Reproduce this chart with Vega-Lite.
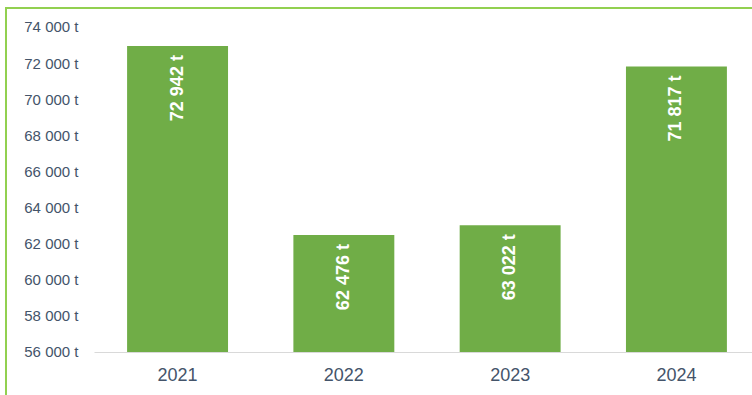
{
  "$schema": "https://vega.github.io/schema/vega-lite/v6.json",
  "autosize": "none",
  "padding": {"left": 6, "top": 8, "right": -8, "bottom": -8},
  "width": 754,
  "height": 395,
  "background": "white",
  "config": {
    "view": {"stroke": "#92D050", "strokeWidth": 2},
    "font": "Liberation Sans"
  },
  "data": {
    "values": [
      {"year": "2021", "value": 72942, "label": "72 942 t"},
      {"year": "2022", "value": 62476, "label": "62 476 t"},
      {"year": "2023", "value": 63022, "label": "63 022 t"},
      {"year": "2024", "value": 71817, "label": "71 817 t"}
    ]
  },
  "encoding": {
    "x": {
      "field": "year",
      "type": "nominal",
      "sort": null,
      "scale": {"range": [88, 754], "paddingInner": 0.393, "paddingOuter": 0.199},
      "axis": {
        "orient": "bottom",
        "offset": -51,
        "domainColor": "#D9D9D9",
        "domainWidth": 1,
        "ticks": false,
        "tickSize": 0,
        "labelPadding": 14,
        "labelFontSize": 18,
        "labelColor": "#44546A",
        "labelAngle": 0,
        "title": null
      }
    }
  },
  "layer": [
    {
      "mark": {"type": "bar", "color": "#70AD47"},
      "encoding": {
        "y": {
          "field": "value",
          "type": "quantitative",
          "scale": {"domain": [53175, 75052], "nice": false, "zero": false},
          "axis": {
            "values": [56000, 58000, 60000, 62000, 64000, 66000, 68000, 70000, 72000, 74000],
            "domain": false,
            "ticks": false,
            "tickSize": 0,
            "grid": false,
            "labelPadding": -72,
            "labelAlign": "right",
            "labelBaseline": "middle",
            "labelColor": "#44546A",
            "labelFontSize": 15,
            "labelExpr": "replace(format(datum.value, ','), ',', ' ') + ' t'",
            "title": null
          }
        },
        "y2": {"datum": 56000}
      }
    },
    {
      "mark": {
        "type": "text",
        "angle": 270,
        "align": "right",
        "baseline": "middle",
        "dx": -9,
        "color": "white",
        "fontWeight": "bold",
        "fontSize": 18
      },
      "encoding": {
        "y": {"field": "value", "type": "quantitative"},
        "text": {"field": "label"}
      }
    }
  ]
}
